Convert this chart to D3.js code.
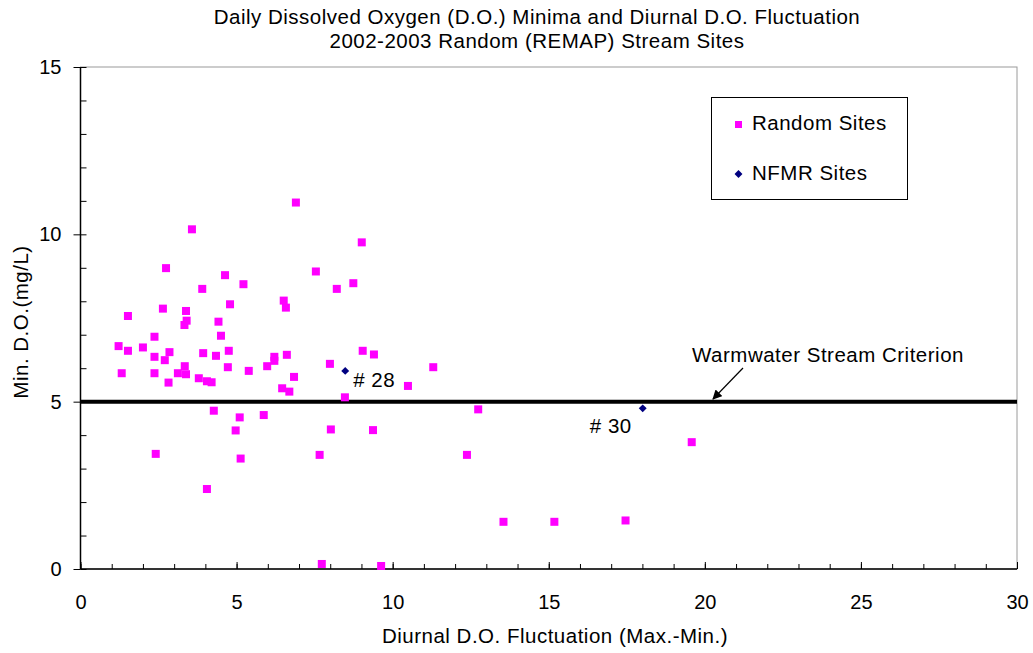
<!DOCTYPE html>
<html>
<head>
<meta charset="utf-8">
<script src="https://cdn.jsdelivr.net/npm/d3@7"></script>
<style>
  body { margin: 0; background: #fff; }
  svg { font-family: Arial, "Liberation Sans", sans-serif; }
  .lbl { font-size: 20.5px; letter-spacing: 0.5px; }
</style>
</head>
<body>
<svg id="chart" width="1033" height="653"></svg>
<script>
// Random (REMAP) sites: [diurnal fluctuation, min D.O.]
const randomSites = [
  [1.22, 6.66], [1.32, 5.85], [1.52, 7.56], [1.52, 6.52], [2.00, 6.62],
  [2.37, 6.94], [2.37, 6.34], [2.37, 5.85], [2.41, 3.44], [2.64, 7.78],
  [2.70, 6.24], [2.74, 8.99], [2.82, 5.57], [2.85, 6.48], [3.12, 5.85],
  [3.33, 7.29], [3.34, 6.06], [3.38, 7.71], [3.38, 5.82], [3.40, 7.42],
  [3.57, 10.15], [3.79, 5.70], [3.90, 8.37], [3.93, 6.45], [4.05, 5.61],
  [4.05, 2.39], [4.20, 5.58], [4.27, 4.73], [4.34, 6.37], [4.42, 7.39],
  [4.50, 6.97], [4.63, 8.78], [4.72, 6.03], [4.75, 6.52], [4.79, 7.91],
  [4.97, 4.14], [5.10, 4.53], [5.13, 3.30], [5.22, 8.51], [5.39, 5.92],
  [5.87, 4.60], [5.98, 6.06], [6.21, 6.34], [6.21, 6.22], [6.46, 5.40],
  [6.51, 8.02], [6.58, 7.81], [6.61, 6.40], [6.69, 5.30], [6.84, 5.74],
  [6.90, 10.95], [7.54, 8.89], [7.66, 3.41], [7.73, 0.15], [7.99, 6.13],
  [8.02, 4.17], [8.21, 8.37], [8.47, 5.13], [8.74, 8.54], [9.01, 9.76],
  [9.04, 6.52], [9.37, 4.15], [9.40, 6.41], [9.63, 0.09], [10.49, 5.47],
  [11.30, 6.03], [12.38, 3.41], [12.74, 4.77], [13.55, 1.41], [15.18, 1.41],
  [17.46, 1.45], [19.58, 3.79]
];
const nfmrSites = [[8.48, 5.92], [18.01, 4.80]];
const nfmrLabels = ["# 28", "# 30"];
const criterion = 5;
const xTicks = [0, 5, 10, 15, 20, 25, 30];
const yTicks = [0, 5, 10, 15];

const svg = d3.select("#chart");
const plotLeft = 80.5, plotRight = 1017, plotTop = 67, plotBottom = 569;

const x = d3.scaleLinear().domain([0, 30]).range([plotLeft, plotRight]);
const y = d3.scaleLinear().domain([0, 15]).range([plotBottom, plotTop]);

// plot border (top/right grey)
svg.append("rect")
  .attr("x", plotLeft).attr("y", plotTop)
  .attr("width", plotRight - plotLeft).attr("height", plotBottom - plotTop)
  .attr("fill", "none").attr("stroke", "#9a9a9a").attr("stroke-width", 1);

// minor ticks
let xAxisMinor = d3.axisBottom(x).tickValues(d3.range(0, 31)).tickSize(-5).tickFormat("");
let xg = svg.append("g").attr("transform", `translate(0,${plotBottom})`).call(xAxisMinor);
xg.select(".domain").remove();

let yAxisMinor = d3.axisLeft(y).tickValues(d3.range(0, 16)).tickSize(-6).tickFormat("");
let yg = svg.append("g").attr("transform", `translate(${plotLeft},0)`).call(yAxisMinor);
yg.select(".domain").remove();

// major ticks + labels
let xAxis = d3.axisBottom(x).tickValues(xTicks).tickSize(-7).tickPadding(26);
let xMajor = svg.append("g").attr("transform", `translate(0,${plotBottom})`).call(xAxis);
xMajor.select(".domain").remove();
xMajor.selectAll("text").attr("font-size", 20).attr("fill", "#000").attr("font-family", "Arial, 'Liberation Sans', sans-serif");

let yAxis = d3.axisLeft(y).tickValues(yTicks).tickSize(7).tickPadding(12);
let yMajor = svg.append("g").attr("transform", `translate(${plotLeft},0)`).call(yAxis);
yMajor.select(".domain").remove();
yMajor.selectAll("text").attr("font-size", 20).attr("fill", "#000").attr("font-family", "Arial, 'Liberation Sans', sans-serif");

// axis lines
svg.append("line").attr("x1", plotLeft).attr("x2", plotRight).attr("y1", plotBottom).attr("y2", plotBottom)
  .attr("stroke", "#000").attr("stroke-width", 1.5);
svg.append("line").attr("x1", plotLeft).attr("x2", plotLeft).attr("y1", plotTop).attr("y2", plotBottom)
  .attr("stroke", "#000").attr("stroke-width", 1.5);

// criterion line
svg.append("line")
  .attr("x1", plotLeft).attr("x2", plotRight)
  .attr("y1", y(criterion)).attr("y2", y(criterion))
  .attr("stroke", "#000").attr("stroke-width", 4);

// random sites
svg.append("g").selectAll("rect")
  .data(randomSites)
  .enter()
  .append("rect")
  .attr("x", d => x(d[0]) - 4)
  .attr("y", d => y(d[1]) - 4)
  .attr("width", 8).attr("height", 8)
  .attr("fill", "#ff00ff");

// nfmr sites
let diamond = d3.symbol().type(d3.symbolDiamond2).size(40);
svg.append("g").selectAll("path")
  .data(nfmrSites)
  .enter()
  .append("path")
  .attr("d", diamond)
  .attr("transform", d => `translate(${x(d[0])},${y(d[1])})`)
  .attr("fill", "#000080");

// nfmr labels
svg.append("text").attr("class", "lbl").attr("x", x(nfmrSites[0][0]) + 8).attr("y", y(nfmrSites[0][1]) + 16)
  .text(nfmrLabels[0]);
svg.append("text").attr("class", "lbl").attr("x", x(nfmrSites[1][0]) - 11).attr("y", y(nfmrSites[1][1]) + 25)
  .attr("text-anchor", "end").text(nfmrLabels[1]);

// criterion annotation with arrow
svg.append("defs").append("marker")
  .attr("id", "arrow")
  .attr("viewBox", "0 0 10 10")
  .attr("refX", 9).attr("refY", 5)
  .attr("markerWidth", 8).attr("markerHeight", 8)
  .attr("orient", "auto")
  .append("path").attr("d", "M0,0 L10,5 L0,10 z").attr("fill", "#000");

svg.append("line")
  .attr("x1", 743).attr("y1", 368)
  .attr("x2", 713).attr("y2", 399)
  .attr("stroke", "#000").attr("stroke-width", 1.2)
  .attr("marker-end", "url(#arrow)");

svg.append("text").attr("class", "lbl").attr("x", 692).attr("y", 362)
  .text("Warmwater Stream Criterion");

// titles
svg.append("text").attr("class", "lbl").attr("x", 537).attr("y", 24).attr("text-anchor", "middle")
  .text("Daily Dissolved Oxygen (D.O.) Minima and Diurnal D.O. Fluctuation");
svg.append("text").attr("class", "lbl").attr("x", 537).attr("y", 48).attr("text-anchor", "middle")
  .text("2002-2003 Random (REMAP) Stream Sites");

svg.append("text").attr("class", "lbl").attr("x", 555).attr("y", 643).attr("text-anchor", "middle")
  .text("Diurnal D.O. Fluctuation (Max.-Min.)");

svg.append("text").attr("class", "lbl")
  .attr("transform", "translate(28,322) rotate(-90)")
  .attr("text-anchor", "middle")
  .text("Min. D.O.(mg/L)");

// legend
let legend = svg.append("g");
legend.append("rect").attr("x", 711.5).attr("y", 97.5).attr("width", 196).attr("height", 102)
  .attr("fill", "#fff").attr("stroke", "#000").attr("stroke-width", 1);
legend.append("rect").attr("x", 735).attr("y", 121).attr("width", 7).attr("height", 7).attr("fill", "#ff00ff");
legend.append("path").attr("d", diamond).attr("transform", "translate(738.5,174)").attr("fill", "#000080");
legend.append("text").attr("class", "lbl").attr("x", 752).attr("y", 130).text("Random Sites");
legend.append("text").attr("class", "lbl").attr("x", 752).attr("y", 180).text("NFMR Sites");
</script>
</body>
</html>
